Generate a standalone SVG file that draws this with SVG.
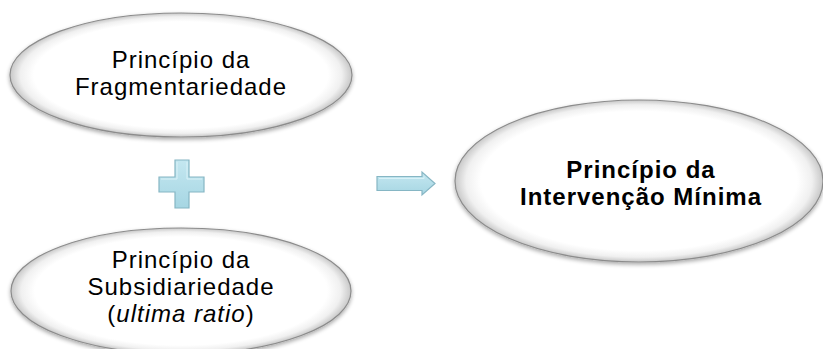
<svg xmlns="http://www.w3.org/2000/svg" width="823" height="349" viewBox="0 0 823 349">
  <defs>
    <radialGradient id="bevel" cx="0.5" cy="0.5" r="0.5">
      <stop offset="0" stop-color="#ffffff"/>
      <stop offset="0.86" stop-color="#ffffff"/>
      <stop offset="0.94" stop-color="#f0f0f0"/>
      <stop offset="1" stop-color="#c8c8c8"/>
    </radialGradient>
    <linearGradient id="blue" x1="0" y1="0" x2="0" y2="1">
      <stop offset="0" stop-color="#c4e7f0"/>
      <stop offset="1" stop-color="#a6d6e3"/>
    </linearGradient>
    <filter id="shadow" x="-10%" y="-10%" width="120%" height="130%">
      <feGaussianBlur in="SourceAlpha" stdDeviation="2"/>
      <feOffset dx="0" dy="2" result="b"/>
      <feComponentTransfer><feFuncA type="linear" slope="0.35"/></feComponentTransfer>
      <feMerge><feMergeNode/><feMergeNode in="SourceGraphic"/></feMerge>
    </filter>
  </defs>
  <style>
    .oval { fill: url(#bevel); stroke: #8c8c8c; stroke-width: 1.2; filter: url(#shadow); }
    .t { font-family: "Liberation Sans", Arial, sans-serif; font-size: 24px; letter-spacing: 1px; fill: #000; text-anchor: middle; }
    .b { font-weight: bold; }
    .sym { fill: url(#blue); stroke: #86b6c4; stroke-width: 1.2; stroke-linejoin: miter; }
    .symin { fill: none; stroke: #d9f1f7; stroke-width: 1; }
  </style>

  <g id="node-fragmentariedade">
    <ellipse class="oval" cx="181" cy="75" rx="171" ry="62"/>
    <text class="t" x="181" y="68">Princípio da</text>
    <text class="t" x="181" y="95">Fragmentariedade</text>
  </g>

  <g id="node-subsidiariedade">
    <ellipse class="oval" cx="181" cy="291" rx="170" ry="63"/>
    <text class="t" x="181" y="268">Princípio da</text>
    <text class="t" x="181" y="295">Subsidiariedade</text>
    <text class="t" x="181" y="322">(<tspan font-style="italic">ultima ratio</tspan>)</text>
  </g>

  <g id="node-intervencao">
    <ellipse class="oval" cx="639" cy="181" rx="184" ry="81"/>
    <text class="t b" x="641" y="178">Princípio da</text>
    <text class="t b" x="641" y="205">Intervenção Mínima</text>
  </g>

  <g id="connectors">
    <path class="sym" d="M175,160 H189 V177 H204 V192 H189 V208 H175 V192 H159 V177 H175 Z"/>
    <path class="symin" d="M177,162 V179 H161 M187,162 V179 H202"/>
    <path class="sym" d="M377,176.5 H422 V172 L435,183.5 L422,195 V190.5 H377 Z"/>
    <path class="symin" d="M379,178.5 H424 V176.5"/>
  </g>
</svg>
